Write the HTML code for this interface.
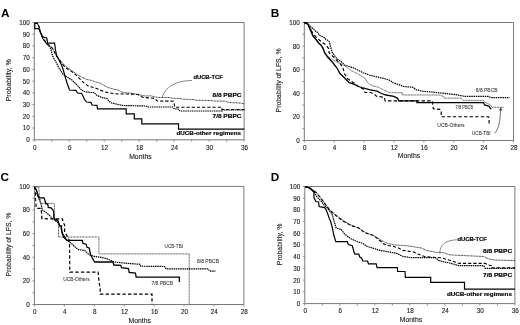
<!DOCTYPE html><html><head><meta charset="utf-8"><style>html,body{margin:0;padding:0;background:#fff;}svg{display:block;filter:grayscale(1) blur(0.3px);}</style></head><body>
<svg width="520" height="325" viewBox="0 0 520 325" style="font-family:&quot;Liberation Sans&quot;, sans-serif">
<rect width="520" height="325" fill="#fff"/>
<text x="0.90" y="17.10" font-size="11.8" text-anchor="start" fill="#000" font-weight="bold" >A</text>
<path d="M34.3,139.8 L34.3,22.5 " stroke="#7a7a7a" stroke-width="1" fill="none"/>
<path d="M34.3,139.8 L244.1,139.8" stroke="#7a7a7a" stroke-width="1" fill="none"/>
<path d="M34.3,22.5 L244.1,22.5 L244.1,139.8" stroke="#7a7a7a" stroke-width="1" fill="none"/>
<path d="M32.3,139.80 L34.3,139.80" stroke="#7a7a7a" stroke-width="0.8"/>
<path d="M32.3,128.07 L34.3,128.07" stroke="#7a7a7a" stroke-width="0.8"/>
<path d="M32.3,116.34 L34.3,116.34" stroke="#7a7a7a" stroke-width="0.8"/>
<path d="M32.3,104.61 L34.3,104.61" stroke="#7a7a7a" stroke-width="0.8"/>
<path d="M32.3,92.88 L34.3,92.88" stroke="#7a7a7a" stroke-width="0.8"/>
<path d="M32.3,81.15 L34.3,81.15" stroke="#7a7a7a" stroke-width="0.8"/>
<path d="M32.3,69.42 L34.3,69.42" stroke="#7a7a7a" stroke-width="0.8"/>
<path d="M32.3,57.69 L34.3,57.69" stroke="#7a7a7a" stroke-width="0.8"/>
<path d="M32.3,45.96 L34.3,45.96" stroke="#7a7a7a" stroke-width="0.8"/>
<path d="M32.3,34.23 L34.3,34.23" stroke="#7a7a7a" stroke-width="0.8"/>
<path d="M32.3,22.50 L34.3,22.50" stroke="#7a7a7a" stroke-width="0.8"/>
<text x="29.70" y="142.20" font-size="6.3" text-anchor="end" fill="#222" stroke="#222" stroke-width="0.12" >0</text>
<text x="29.70" y="130.47" font-size="6.3" text-anchor="end" fill="#222" stroke="#222" stroke-width="0.12" >10</text>
<text x="29.70" y="118.74" font-size="6.3" text-anchor="end" fill="#222" stroke="#222" stroke-width="0.12" >20</text>
<text x="29.70" y="107.01" font-size="6.3" text-anchor="end" fill="#222" stroke="#222" stroke-width="0.12" >30</text>
<text x="29.70" y="95.28" font-size="6.3" text-anchor="end" fill="#222" stroke="#222" stroke-width="0.12" >40</text>
<text x="29.70" y="83.55" font-size="6.3" text-anchor="end" fill="#222" stroke="#222" stroke-width="0.12" >50</text>
<text x="29.70" y="71.82" font-size="6.3" text-anchor="end" fill="#222" stroke="#222" stroke-width="0.12" >60</text>
<text x="29.70" y="60.09" font-size="6.3" text-anchor="end" fill="#222" stroke="#222" stroke-width="0.12" >70</text>
<text x="29.70" y="48.36" font-size="6.3" text-anchor="end" fill="#222" stroke="#222" stroke-width="0.12" >80</text>
<text x="29.70" y="36.63" font-size="6.3" text-anchor="end" fill="#222" stroke="#222" stroke-width="0.12" >90</text>
<text x="29.70" y="24.90" font-size="6.3" text-anchor="end" fill="#222" stroke="#222" stroke-width="0.12" >100</text>
<path d="M34.30,139.8 L34.30,141.8" stroke="#7a7a7a" stroke-width="0.8"/>
<path d="M51.78,139.8 L51.78,141.8" stroke="#7a7a7a" stroke-width="0.8"/>
<path d="M69.27,139.8 L69.27,141.8" stroke="#7a7a7a" stroke-width="0.8"/>
<path d="M86.75,139.8 L86.75,141.8" stroke="#7a7a7a" stroke-width="0.8"/>
<path d="M104.23,139.8 L104.23,141.8" stroke="#7a7a7a" stroke-width="0.8"/>
<path d="M121.72,139.8 L121.72,141.8" stroke="#7a7a7a" stroke-width="0.8"/>
<path d="M139.20,139.8 L139.20,141.8" stroke="#7a7a7a" stroke-width="0.8"/>
<path d="M156.68,139.8 L156.68,141.8" stroke="#7a7a7a" stroke-width="0.8"/>
<path d="M174.17,139.8 L174.17,141.8" stroke="#7a7a7a" stroke-width="0.8"/>
<path d="M191.65,139.8 L191.65,141.8" stroke="#7a7a7a" stroke-width="0.8"/>
<path d="M209.13,139.8 L209.13,141.8" stroke="#7a7a7a" stroke-width="0.8"/>
<path d="M226.62,139.8 L226.62,141.8" stroke="#7a7a7a" stroke-width="0.8"/>
<path d="M244.10,139.8 L244.10,141.8" stroke="#7a7a7a" stroke-width="0.8"/>
<text x="34.70" y="149.50" font-size="6.3" text-anchor="middle" fill="#222" stroke="#222" stroke-width="0.12" >0</text>
<text x="69.67" y="149.50" font-size="6.3" text-anchor="middle" fill="#222" stroke="#222" stroke-width="0.12" >6</text>
<text x="104.63" y="149.50" font-size="6.3" text-anchor="middle" fill="#222" stroke="#222" stroke-width="0.12" >12</text>
<text x="139.60" y="149.50" font-size="6.3" text-anchor="middle" fill="#222" stroke="#222" stroke-width="0.12" >18</text>
<text x="174.57" y="149.50" font-size="6.3" text-anchor="middle" fill="#222" stroke="#222" stroke-width="0.12" >24</text>
<text x="209.53" y="149.50" font-size="6.3" text-anchor="middle" fill="#222" stroke="#222" stroke-width="0.12" >30</text>
<text x="244.50" y="149.50" font-size="6.3" text-anchor="middle" fill="#222" stroke="#222" stroke-width="0.12" >36</text>
<text x="11.50" y="80.30" font-size="7" text-anchor="middle" fill="#222" stroke="#222" stroke-width="0.12" textLength="42" lengthAdjust="spacingAndGlyphs" transform="rotate(-90 11.50 80.30)" >Probability, %</text>
<text x="140.40" y="159.00" font-size="7.2" text-anchor="middle" fill="#222" stroke="#222" stroke-width="0.12" textLength="22.5" lengthAdjust="spacingAndGlyphs" >Months</text>
<text x="270.80" y="17.10" font-size="11.8" text-anchor="start" fill="#000" font-weight="bold" >B</text>
<path d="M304.3,140.5 L304.3,22.5 " stroke="#7a7a7a" stroke-width="1" fill="none"/>
<path d="M304.3,140.5 L513.5,140.5" stroke="#7a7a7a" stroke-width="1" fill="none"/>
<path d="M304.3,22.5 L513.5,22.5 L513.5,140.5" stroke="#7a7a7a" stroke-width="1" fill="none"/>
<path d="M302.3,140.50 L304.3,140.50" stroke="#7a7a7a" stroke-width="0.8"/>
<path d="M302.3,128.70 L304.3,128.70" stroke="#7a7a7a" stroke-width="0.8"/>
<path d="M302.3,116.90 L304.3,116.90" stroke="#7a7a7a" stroke-width="0.8"/>
<path d="M302.3,105.10 L304.3,105.10" stroke="#7a7a7a" stroke-width="0.8"/>
<path d="M302.3,93.30 L304.3,93.30" stroke="#7a7a7a" stroke-width="0.8"/>
<path d="M302.3,81.50 L304.3,81.50" stroke="#7a7a7a" stroke-width="0.8"/>
<path d="M302.3,69.70 L304.3,69.70" stroke="#7a7a7a" stroke-width="0.8"/>
<path d="M302.3,57.90 L304.3,57.90" stroke="#7a7a7a" stroke-width="0.8"/>
<path d="M302.3,46.10 L304.3,46.10" stroke="#7a7a7a" stroke-width="0.8"/>
<path d="M302.3,34.30 L304.3,34.30" stroke="#7a7a7a" stroke-width="0.8"/>
<path d="M302.3,22.50 L304.3,22.50" stroke="#7a7a7a" stroke-width="0.8"/>
<text x="299.70" y="142.90" font-size="6.3" text-anchor="end" fill="#222" stroke="#222" stroke-width="0.12" >0</text>
<text x="299.70" y="119.30" font-size="6.3" text-anchor="end" fill="#222" stroke="#222" stroke-width="0.12" >20</text>
<text x="299.70" y="95.70" font-size="6.3" text-anchor="end" fill="#222" stroke="#222" stroke-width="0.12" >40</text>
<text x="299.70" y="72.10" font-size="6.3" text-anchor="end" fill="#222" stroke="#222" stroke-width="0.12" >60</text>
<text x="299.70" y="48.50" font-size="6.3" text-anchor="end" fill="#222" stroke="#222" stroke-width="0.12" >80</text>
<text x="299.70" y="24.90" font-size="6.3" text-anchor="end" fill="#222" stroke="#222" stroke-width="0.12" >100</text>
<path d="M304.30,140.5 L304.30,142.5" stroke="#7a7a7a" stroke-width="0.8"/>
<path d="M334.19,140.5 L334.19,142.5" stroke="#7a7a7a" stroke-width="0.8"/>
<path d="M364.07,140.5 L364.07,142.5" stroke="#7a7a7a" stroke-width="0.8"/>
<path d="M393.96,140.5 L393.96,142.5" stroke="#7a7a7a" stroke-width="0.8"/>
<path d="M423.84,140.5 L423.84,142.5" stroke="#7a7a7a" stroke-width="0.8"/>
<path d="M453.73,140.5 L453.73,142.5" stroke="#7a7a7a" stroke-width="0.8"/>
<path d="M483.61,140.5 L483.61,142.5" stroke="#7a7a7a" stroke-width="0.8"/>
<path d="M513.50,140.5 L513.50,142.5" stroke="#7a7a7a" stroke-width="0.8"/>
<text x="304.70" y="150.20" font-size="6.3" text-anchor="middle" fill="#222" stroke="#222" stroke-width="0.12" >0</text>
<text x="334.59" y="150.20" font-size="6.3" text-anchor="middle" fill="#222" stroke="#222" stroke-width="0.12" >4</text>
<text x="364.47" y="150.20" font-size="6.3" text-anchor="middle" fill="#222" stroke="#222" stroke-width="0.12" >8</text>
<text x="394.36" y="150.20" font-size="6.3" text-anchor="middle" fill="#222" stroke="#222" stroke-width="0.12" >12</text>
<text x="424.24" y="150.20" font-size="6.3" text-anchor="middle" fill="#222" stroke="#222" stroke-width="0.12" >16</text>
<text x="454.13" y="150.20" font-size="6.3" text-anchor="middle" fill="#222" stroke="#222" stroke-width="0.12" >20</text>
<text x="484.01" y="150.20" font-size="6.3" text-anchor="middle" fill="#222" stroke="#222" stroke-width="0.12" >24</text>
<text x="513.90" y="150.20" font-size="6.3" text-anchor="middle" fill="#222" stroke="#222" stroke-width="0.12" >28</text>
<text x="281.00" y="80.40" font-size="7" text-anchor="middle" fill="#222" stroke="#222" stroke-width="0.12" textLength="64" lengthAdjust="spacingAndGlyphs" transform="rotate(-90 281.00 80.40)" >Probability of LFS, %</text>
<text x="409.00" y="158.40" font-size="7.2" text-anchor="middle" fill="#222" stroke="#222" stroke-width="0.12" textLength="22.5" lengthAdjust="spacingAndGlyphs" >Months</text>
<text x="0.60" y="180.60" font-size="11.8" text-anchor="start" fill="#000" font-weight="bold" >C</text>
<path d="M34.4,304.5 L34.4,186.4 " stroke="#7a7a7a" stroke-width="1" fill="none"/>
<path d="M34.4,304.5 L243.9,304.5" stroke="#7a7a7a" stroke-width="1" fill="none"/>
<path d="M34.4,186.4 L243.9,186.4 L243.9,304.5" stroke="#7a7a7a" stroke-width="1" fill="none"/>
<path d="M32.4,304.50 L34.4,304.50" stroke="#7a7a7a" stroke-width="0.8"/>
<path d="M32.4,292.69 L34.4,292.69" stroke="#7a7a7a" stroke-width="0.8"/>
<path d="M32.4,280.88 L34.4,280.88" stroke="#7a7a7a" stroke-width="0.8"/>
<path d="M32.4,269.07 L34.4,269.07" stroke="#7a7a7a" stroke-width="0.8"/>
<path d="M32.4,257.26 L34.4,257.26" stroke="#7a7a7a" stroke-width="0.8"/>
<path d="M32.4,245.45 L34.4,245.45" stroke="#7a7a7a" stroke-width="0.8"/>
<path d="M32.4,233.64 L34.4,233.64" stroke="#7a7a7a" stroke-width="0.8"/>
<path d="M32.4,221.83 L34.4,221.83" stroke="#7a7a7a" stroke-width="0.8"/>
<path d="M32.4,210.02 L34.4,210.02" stroke="#7a7a7a" stroke-width="0.8"/>
<path d="M32.4,198.21 L34.4,198.21" stroke="#7a7a7a" stroke-width="0.8"/>
<path d="M32.4,186.40 L34.4,186.40" stroke="#7a7a7a" stroke-width="0.8"/>
<text x="29.80" y="306.90" font-size="6.3" text-anchor="end" fill="#222" stroke="#222" stroke-width="0.12" >0</text>
<text x="29.80" y="283.28" font-size="6.3" text-anchor="end" fill="#222" stroke="#222" stroke-width="0.12" >20</text>
<text x="29.80" y="259.66" font-size="6.3" text-anchor="end" fill="#222" stroke="#222" stroke-width="0.12" >40</text>
<text x="29.80" y="236.04" font-size="6.3" text-anchor="end" fill="#222" stroke="#222" stroke-width="0.12" >60</text>
<text x="29.80" y="212.42" font-size="6.3" text-anchor="end" fill="#222" stroke="#222" stroke-width="0.12" >80</text>
<text x="29.80" y="188.80" font-size="6.3" text-anchor="end" fill="#222" stroke="#222" stroke-width="0.12" >100</text>
<path d="M34.40,304.5 L34.40,306.5" stroke="#7a7a7a" stroke-width="0.8"/>
<path d="M64.33,304.5 L64.33,306.5" stroke="#7a7a7a" stroke-width="0.8"/>
<path d="M94.26,304.5 L94.26,306.5" stroke="#7a7a7a" stroke-width="0.8"/>
<path d="M124.19,304.5 L124.19,306.5" stroke="#7a7a7a" stroke-width="0.8"/>
<path d="M154.11,304.5 L154.11,306.5" stroke="#7a7a7a" stroke-width="0.8"/>
<path d="M184.04,304.5 L184.04,306.5" stroke="#7a7a7a" stroke-width="0.8"/>
<path d="M213.97,304.5 L213.97,306.5" stroke="#7a7a7a" stroke-width="0.8"/>
<path d="M243.90,304.5 L243.90,306.5" stroke="#7a7a7a" stroke-width="0.8"/>
<text x="34.80" y="314.20" font-size="6.3" text-anchor="middle" fill="#222" stroke="#222" stroke-width="0.12" >0</text>
<text x="64.73" y="314.20" font-size="6.3" text-anchor="middle" fill="#222" stroke="#222" stroke-width="0.12" >4</text>
<text x="94.66" y="314.20" font-size="6.3" text-anchor="middle" fill="#222" stroke="#222" stroke-width="0.12" >8</text>
<text x="124.59" y="314.20" font-size="6.3" text-anchor="middle" fill="#222" stroke="#222" stroke-width="0.12" >12</text>
<text x="154.51" y="314.20" font-size="6.3" text-anchor="middle" fill="#222" stroke="#222" stroke-width="0.12" >16</text>
<text x="184.44" y="314.20" font-size="6.3" text-anchor="middle" fill="#222" stroke="#222" stroke-width="0.12" >20</text>
<text x="214.37" y="314.20" font-size="6.3" text-anchor="middle" fill="#222" stroke="#222" stroke-width="0.12" >24</text>
<text x="244.30" y="314.20" font-size="6.3" text-anchor="middle" fill="#222" stroke="#222" stroke-width="0.12" >28</text>
<text x="10.80" y="244.60" font-size="7" text-anchor="middle" fill="#222" stroke="#222" stroke-width="0.12" textLength="64" lengthAdjust="spacingAndGlyphs" transform="rotate(-90 10.80 244.60)" >Probability of LFS, %</text>
<text x="139.70" y="322.50" font-size="7.2" text-anchor="middle" fill="#222" stroke="#222" stroke-width="0.12" textLength="22.5" lengthAdjust="spacingAndGlyphs" >Months</text>
<text x="270.80" y="180.60" font-size="11.8" text-anchor="start" fill="#000" font-weight="bold" >D</text>
<path d="M304.8,303.6 L304.8,186.5 " stroke="#7a7a7a" stroke-width="1" fill="none"/>
<path d="M304.8,303.6 L514.9,303.6" stroke="#7a7a7a" stroke-width="1" fill="none"/>
<path d="M304.8,186.5 L514.9,186.5 L514.9,303.6" stroke="#7a7a7a" stroke-width="1" fill="none"/>
<path d="M302.8,303.60 L304.8,303.60" stroke="#7a7a7a" stroke-width="0.8"/>
<path d="M302.8,291.89 L304.8,291.89" stroke="#7a7a7a" stroke-width="0.8"/>
<path d="M302.8,280.18 L304.8,280.18" stroke="#7a7a7a" stroke-width="0.8"/>
<path d="M302.8,268.47 L304.8,268.47" stroke="#7a7a7a" stroke-width="0.8"/>
<path d="M302.8,256.76 L304.8,256.76" stroke="#7a7a7a" stroke-width="0.8"/>
<path d="M302.8,245.05 L304.8,245.05" stroke="#7a7a7a" stroke-width="0.8"/>
<path d="M302.8,233.34 L304.8,233.34" stroke="#7a7a7a" stroke-width="0.8"/>
<path d="M302.8,221.63 L304.8,221.63" stroke="#7a7a7a" stroke-width="0.8"/>
<path d="M302.8,209.92 L304.8,209.92" stroke="#7a7a7a" stroke-width="0.8"/>
<path d="M302.8,198.21 L304.8,198.21" stroke="#7a7a7a" stroke-width="0.8"/>
<path d="M302.8,186.50 L304.8,186.50" stroke="#7a7a7a" stroke-width="0.8"/>
<text x="300.20" y="306.00" font-size="6.3" text-anchor="end" fill="#222" stroke="#222" stroke-width="0.12" >0</text>
<text x="300.20" y="294.29" font-size="6.3" text-anchor="end" fill="#222" stroke="#222" stroke-width="0.12" >10</text>
<text x="300.20" y="282.58" font-size="6.3" text-anchor="end" fill="#222" stroke="#222" stroke-width="0.12" >20</text>
<text x="300.20" y="270.87" font-size="6.3" text-anchor="end" fill="#222" stroke="#222" stroke-width="0.12" >30</text>
<text x="300.20" y="259.16" font-size="6.3" text-anchor="end" fill="#222" stroke="#222" stroke-width="0.12" >40</text>
<text x="300.20" y="247.45" font-size="6.3" text-anchor="end" fill="#222" stroke="#222" stroke-width="0.12" >50</text>
<text x="300.20" y="235.74" font-size="6.3" text-anchor="end" fill="#222" stroke="#222" stroke-width="0.12" >60</text>
<text x="300.20" y="224.03" font-size="6.3" text-anchor="end" fill="#222" stroke="#222" stroke-width="0.12" >70</text>
<text x="300.20" y="212.32" font-size="6.3" text-anchor="end" fill="#222" stroke="#222" stroke-width="0.12" >80</text>
<text x="300.20" y="200.61" font-size="6.3" text-anchor="end" fill="#222" stroke="#222" stroke-width="0.12" >90</text>
<text x="300.20" y="188.90" font-size="6.3" text-anchor="end" fill="#222" stroke="#222" stroke-width="0.12" >100</text>
<path d="M304.80,303.6 L304.80,305.6" stroke="#7a7a7a" stroke-width="0.8"/>
<path d="M322.31,303.6 L322.31,305.6" stroke="#7a7a7a" stroke-width="0.8"/>
<path d="M339.82,303.6 L339.82,305.6" stroke="#7a7a7a" stroke-width="0.8"/>
<path d="M357.32,303.6 L357.32,305.6" stroke="#7a7a7a" stroke-width="0.8"/>
<path d="M374.83,303.6 L374.83,305.6" stroke="#7a7a7a" stroke-width="0.8"/>
<path d="M392.34,303.6 L392.34,305.6" stroke="#7a7a7a" stroke-width="0.8"/>
<path d="M409.85,303.6 L409.85,305.6" stroke="#7a7a7a" stroke-width="0.8"/>
<path d="M427.36,303.6 L427.36,305.6" stroke="#7a7a7a" stroke-width="0.8"/>
<path d="M444.87,303.6 L444.87,305.6" stroke="#7a7a7a" stroke-width="0.8"/>
<path d="M462.38,303.6 L462.38,305.6" stroke="#7a7a7a" stroke-width="0.8"/>
<path d="M479.88,303.6 L479.88,305.6" stroke="#7a7a7a" stroke-width="0.8"/>
<path d="M497.39,303.6 L497.39,305.6" stroke="#7a7a7a" stroke-width="0.8"/>
<path d="M514.90,303.6 L514.90,305.6" stroke="#7a7a7a" stroke-width="0.8"/>
<text x="305.20" y="313.30" font-size="6.3" text-anchor="middle" fill="#222" stroke="#222" stroke-width="0.12" >0</text>
<text x="340.22" y="313.30" font-size="6.3" text-anchor="middle" fill="#222" stroke="#222" stroke-width="0.12" >6</text>
<text x="375.23" y="313.30" font-size="6.3" text-anchor="middle" fill="#222" stroke="#222" stroke-width="0.12" >12</text>
<text x="410.25" y="313.30" font-size="6.3" text-anchor="middle" fill="#222" stroke="#222" stroke-width="0.12" >18</text>
<text x="445.27" y="313.30" font-size="6.3" text-anchor="middle" fill="#222" stroke="#222" stroke-width="0.12" >24</text>
<text x="480.28" y="313.30" font-size="6.3" text-anchor="middle" fill="#222" stroke="#222" stroke-width="0.12" >30</text>
<text x="515.30" y="313.30" font-size="6.3" text-anchor="middle" fill="#222" stroke="#222" stroke-width="0.12" >36</text>
<text x="282.00" y="244.40" font-size="7" text-anchor="middle" fill="#222" stroke="#222" stroke-width="0.12" textLength="41.5" lengthAdjust="spacingAndGlyphs" transform="rotate(-90 282.00 244.40)" >Probability, %</text>
<text x="411.00" y="321.70" font-size="7.2" text-anchor="middle" fill="#222" stroke="#222" stroke-width="0.12" textLength="22.5" lengthAdjust="spacingAndGlyphs" >Months</text>
<path d="M34.60,23.20 L37.40,23.40 L39.40,27.50 L39.80,30.50 L41.00,34.00 L42.50,37.50 L43.40,39.70 L44.80,40.60 L45.70,42.50 L46.60,43.80 L48.00,44.70 L49.80,45.50 L52.20,48.00 L53.50,49.80 L54.00,51.00 L56.00,55.50 L59.00,59.00 L62.00,62.50 L65.00,65.50 L68.00,68.00 L71.40,70.40 L79.00,75.80 L86.80,79.60 L90.00,80.00 L96.00,82.00 L100.00,83.00 L105.00,86.00 L108.00,87.50 L113.00,89.00 L118.00,90.00 L123.00,92.50 L133.00,93.50 L140.00,95.00 L145.00,96.00 L151.00,95.80 L155.00,97.00 L160.00,97.50 L170.00,97.50 L172.00,98.20 L181.00,98.50 L182.00,99.20 L194.00,99.50 L195.00,100.20 L211.00,100.50 L214.00,101.00 L226.00,101.20 L228.00,102.50 L240.00,103.00 L244.30,103.80" stroke="#222" stroke-width="0.9" fill="none" stroke-dasharray="1 0.5" stroke-linejoin="miter" />
<path d="M34.60,23.20 L37.40,23.40 L39.40,27.50 L39.80,30.50 L41.00,34.00 L42.50,37.50 L43.40,39.70 L44.80,40.60 L45.70,42.50 L46.60,43.80 L48.00,44.70 L49.80,45.50 L52.20,48.00 L53.50,49.80 L54.00,51.00 L56.00,55.50 L59.00,59.00 L62.00,63.50 L65.00,67.00 L68.00,69.50 L71.40,71.20 L77.00,76.00 L83.70,82.70 L89.00,86.50 L94.00,87.50 L100.00,90.00 L105.00,92.00 L110.00,93.00 L118.00,94.00 L128.00,94.00 L138.00,94.50 L143.00,97.50 L151.00,98.00 L155.00,98.50 L157.00,101.00 L173.50,101.20 L175.00,107.30 L222.00,107.30 L222.00,109.50 L244.30,109.50" stroke="#000" stroke-width="1.1" fill="none" stroke-dasharray="3.2 2" stroke-linejoin="miter" />
<path d="M34.60,23.20 L37.40,23.40 L39.40,27.50 L39.80,30.50 L41.00,34.00 L42.50,37.50 L43.40,39.70 L44.80,40.60 L45.70,42.50 L46.60,43.80 L48.00,44.70 L50.30,48.00 L51.20,49.80 L52.00,54.00 L53.50,58.00 L55.00,60.50 L57.00,64.00 L59.00,68.00 L63.00,74.20 L67.00,77.00 L72.00,80.00 L77.00,85.00 L81.50,90.00 L84.00,91.50 L90.00,92.50 L94.00,92.50 L97.00,95.50 L102.00,97.50 L107.00,98.50 L109.00,101.50 L111.00,102.80 L116.00,104.00 L123.00,105.50 L146.00,106.00 L147.00,107.00 L173.00,107.00 L174.50,109.00 L178.00,109.00 L180.00,111.00 L222.00,111.00 L222.00,110.00 L244.30,110.00" stroke="#000" stroke-width="1.2" fill="none" stroke-dasharray="1.5 0.7" stroke-linejoin="miter" />
<path d="M34.80,23.20 L34.80,28.70 L38.50,28.70 L39.80,30.50 L41.20,33.80 L42.30,36.50 L44.80,37.60 L46.60,37.80 L47.10,39.70 L47.50,43.20 L54.60,43.20 L55.00,46.00 L55.50,50.00 L56.50,55.00 L58.00,58.00 L60.00,62.00 L61.50,65.00 L63.00,69.00 L65.50,78.00 L67.00,83.00 L69.50,90.00 L76.00,90.30 L77.50,93.00 L81.50,93.30 L83.00,96.00 L84.50,99.50 L86.50,102.00 L91.00,102.30 L92.00,105.00 L97.00,105.30 L97.50,108.80 L126.20,108.80 L126.20,113.80 L134.30,113.80 L134.30,118.80 L141.80,118.80 L141.80,123.80 L178.50,123.80 L178.50,129.20 L244.30,129.20" stroke="#000" stroke-width="1.2" fill="none" stroke-linejoin="miter" />
<path d="M191.9,80.5 C176,80.5 165,87 162,97.7" stroke="#555" stroke-width="0.7" fill="none"/>
<text x="193.50" y="78.70" font-size="6.1" text-anchor="start" fill="#000" font-weight="bold" textLength="29.2" lengthAdjust="spacingAndGlyphs" stroke="#000" stroke-width="0.18">dUCB-TCF</text>
<text x="212.50" y="97.00" font-size="6.1" text-anchor="start" fill="#000" font-weight="bold" textLength="29" lengthAdjust="spacingAndGlyphs" stroke="#000" stroke-width="0.18">8/8 PBPC</text>
<text x="212.50" y="118.00" font-size="6.1" text-anchor="start" fill="#000" font-weight="bold" textLength="29" lengthAdjust="spacingAndGlyphs" stroke="#000" stroke-width="0.18">7/8 PBPC</text>
<text x="176.50" y="135.40" font-size="6.1" text-anchor="start" fill="#000" font-weight="bold" textLength="64.5" lengthAdjust="spacingAndGlyphs" stroke="#000" stroke-width="0.18">dUCB-other regimens</text>
<path d="M304.00,22.50 L307.00,23.00 L310.00,27.00 L312.00,31.00 L312.50,36.50 L314.50,38.00 L316.00,39.00 L319.00,43.00 L323.00,49.60 L326.00,54.20 L329.20,57.30 L333.80,60.40 L340.00,63.50 L346.00,66.50 L350.80,70.40 L355.40,72.70 L360.00,75.00 L364.60,78.00 L367.70,82.70 L372.30,85.80 L378.50,87.30 L383.00,89.60 L390.00,92.70 L402.30,92.70 L402.30,95.00 L439.20,95.00 L443.80,96.50 L443.80,98.20 L461.10,98.20 L462.90,100.40 L483.60,100.40 L485.40,102.50 L490.00,104.50 L492.20,107.30 L504.00,107.30" stroke="#444" stroke-width="0.9" fill="none" stroke-dasharray="1 0.5" stroke-linejoin="miter" />
<path d="M304.50,22.80 L307.70,23.40 L309.10,25.20 L310.50,26.60 L312.30,28.00 L313.70,28.90 L315.00,30.80 L316.50,31.70 L317.80,32.60 L318.80,34.00 L319.50,35.40 L322.00,36.50 L325.00,38.00 L326.00,39.50 L328.00,40.50 L329.50,42.00 L330.00,45.00 L332.30,52.70 L337.00,58.80 L341.50,62.00 L344.60,65.00 L349.20,66.50 L353.80,68.00 L358.50,70.40 L363.00,72.70 L369.20,75.00 L375.40,76.50 L381.50,78.00 L385.40,78.80 L390.00,80.40 L393.00,82.70 L397.70,84.20 L403.80,86.50 L413.00,87.30 L416.00,89.60 L422.30,91.20 L431.50,92.00 L440.40,93.00 L456.00,94.70 L464.60,96.40 L488.80,96.40 L490.50,97.60 L509.60,97.60" stroke="#000" stroke-width="1.2" fill="none" stroke-dasharray="1.5 0.75" stroke-linejoin="miter" />
<path d="M304.00,22.50 L307.00,24.00 L310.00,28.00 L313.00,34.00 L317.00,38.00 L320.00,40.50 L323.00,43.00 L326.00,45.00 L329.00,49.00 L329.00,52.70 L335.40,58.80 L340.00,63.50 L343.00,68.00 L344.60,74.00 L347.70,78.80 L352.30,82.00 L357.30,85.80 L364.00,89.60 L365.00,92.50 L370.80,92.50 L374.60,94.40 L376.50,96.30 L384.20,97.30 L385.20,100.80 L432.30,100.80 L433.30,108.80 L440.00,109.40 L441.20,110.80 L441.20,116.70 L488.60,116.80 L489.10,117.80 L489.10,124.80" stroke="#000" stroke-width="1.15" fill="none" stroke-dasharray="3.4 2.2" stroke-linejoin="miter" />
<path d="M304.50,22.80 L306.80,22.90 L308.20,24.80 L309.10,27.10 L310.00,29.40 L310.90,31.20 L311.80,33.50 L312.80,35.40 L314.00,37.00 L316.00,39.50 L317.50,41.50 L319.00,43.50 L321.00,45.00 L323.00,48.00 L324.60,52.70 L327.70,57.30 L332.30,62.00 L337.00,68.00 L340.00,73.50 L344.60,78.00 L349.20,82.70 L353.80,84.20 L358.50,86.50 L363.00,88.00 L369.20,89.60 L377.00,91.20 L381.50,93.50 L386.00,95.00 L393.80,96.30 L397.70,98.30 L398.70,100.80 L417.00,100.80 L417.00,102.60 L483.60,102.60 L484.50,105.00 L488.80,106.00 L490.50,108.50 L491.40,108.50" stroke="#000" stroke-width="1.3" fill="none" stroke-linejoin="miter" />
<path d="M494.6,133.2 C498.6,129 500.2,122 500.5,110.5" stroke="#333" stroke-width="0.7" fill="none"/>
<path d="M499,110.5 L500.8,107.3 L502.4,110.5 Z" fill="#333"/>
<text x="475.80" y="91.80" font-size="5.5" text-anchor="start" fill="#444" textLength="21.7" lengthAdjust="spacingAndGlyphs" stroke="#444" stroke-width="0.1">8/8 PBCB</text>
<text x="455.60" y="109.20" font-size="5.5" text-anchor="start" fill="#444" textLength="17.5" lengthAdjust="spacingAndGlyphs" stroke="#444" stroke-width="0.1">7/8 PBCB</text>
<text x="437.30" y="126.70" font-size="5.5" text-anchor="start" fill="#444" textLength="27.3" lengthAdjust="spacingAndGlyphs" stroke="#444" stroke-width="0.1">UCB-Others</text>
<text x="472.00" y="135.00" font-size="5.5" text-anchor="start" fill="#444" textLength="18.6" lengthAdjust="spacingAndGlyphs" stroke="#444" stroke-width="0.1">UCB-TBI</text>
<path d="M34.30,187.00 L38.90,187.00 L38.90,189.50 L39.40,196.00 L40.30,200.00 L40.80,203.40 L54.20,203.40 L54.60,208.00 L54.60,218.40 L57.00,220.00 L58.50,222.00 L58.50,237.00 L98.90,237.00 L98.90,253.90 L189.20,253.90 L189.20,304.30" stroke="#444" stroke-width="0.9" fill="none" stroke-dasharray="1 0.5" stroke-linejoin="miter" />
<path d="M34.30,187.00 L35.70,188.60 L37.50,195.00 L39.90,201.40 L41.00,203.80 L41.70,206.90 L42.00,209.70 L43.40,210.70 L45.10,211.80 L46.90,213.20 L48.60,214.50 L50.30,216.30 L51.70,218.00 L53.00,219.00 L54.60,220.00 L57.00,222.20 L58.50,223.00 L61.00,228.00 L63.00,234.00 L67.00,240.40 L71.50,243.50 L75.40,247.30 L78.50,249.60 L84.60,250.40 L87.70,253.50 L90.00,255.00 L94.60,256.50 L100.80,257.30 L107.00,258.80 L114.60,262.00 L120.80,262.70 L123.00,263.00 L140.00,264.30 L140.80,266.20 L164.60,266.50 L166.20,268.80 L207.70,268.80 L208.50,269.60 L210.00,271.20 L215.40,271.20" stroke="#000" stroke-width="1.2" fill="none" stroke-dasharray="1.5 0.7" stroke-linejoin="miter" />
<path d="M34.30,187.00 L35.50,189.00 L35.50,198.00 L36.20,207.60 L37.00,208.40 L41.00,208.40 L41.80,214.50 L41.80,218.60 L48.00,218.80 L62.50,218.80 L63.00,222.00 L64.60,225.00 L64.60,232.00 L68.50,238.00 L69.50,242.00 L69.80,272.10 L98.10,272.10 L99.10,282.00 L100.20,289.50 L100.20,294.20 L152.00,294.20 L152.00,304.30" stroke="#000" stroke-width="1.2" fill="none" stroke-dasharray="3.4 2.2" stroke-linejoin="miter" />
<path d="M34.30,187.00 L36.60,190.50 L37.50,193.20 L38.50,197.00 L39.40,197.80 L44.00,197.80 L45.00,200.60 L45.50,202.80 L45.80,203.80 L47.50,203.80 L48.00,205.50 L48.30,207.50 L51.00,207.80 L51.50,208.50 L52.60,209.30 L53.40,211.10 L53.80,213.90 L53.80,217.30 L54.50,218.70 L55.40,220.00 L57.70,220.00 L59.20,224.50 L60.00,226.00 L61.50,226.00 L61.50,229.00 L62.00,233.00 L63.80,237.30 L67.00,240.40 L82.30,240.40 L83.00,243.50 L86.20,244.20 L87.00,247.30 L89.20,248.00 L90.00,252.00 L90.80,255.00 L92.30,258.00 L94.60,262.00 L113.00,262.00 L113.80,265.00 L120.80,265.30 L121.50,267.70 L128.50,268.50 L129.20,272.30 L135.40,273.00 L136.20,277.20 L179.40,277.20 L179.40,282.00" stroke="#000" stroke-width="1.3" fill="none" stroke-linejoin="miter" />
<text x="164.60" y="247.80" font-size="5.5" text-anchor="start" fill="#444" textLength="18.4" lengthAdjust="spacingAndGlyphs" stroke="#444" stroke-width="0.1">UCB-TBI</text>
<text x="197.00" y="262.80" font-size="5.5" text-anchor="start" fill="#444" textLength="22" lengthAdjust="spacingAndGlyphs" stroke="#444" stroke-width="0.1">8/8 PBCB</text>
<text x="151.50" y="285.00" font-size="5.5" text-anchor="start" fill="#444" textLength="21.5" lengthAdjust="spacingAndGlyphs" stroke="#444" stroke-width="0.1">7/8 PBCB</text>
<text x="63.20" y="281.00" font-size="5.5" text-anchor="start" fill="#444" textLength="26.4" lengthAdjust="spacingAndGlyphs" stroke="#444" stroke-width="0.1">UCB-Others</text>
<path d="M305.00,186.60 L307.50,187.00 L310.50,188.50 L315.40,191.50 L320.00,196.80 L324.60,203.00 L329.20,209.20 L333.80,213.50 L343.00,220.40 L350.80,225.00 L358.50,228.00 L366.00,232.70 L373.80,235.80 L381.50,240.40 L387.70,243.50 L395.40,245.00 L407.70,245.80 L421.50,248.00 L426.20,250.40 L436.00,252.30 L443.70,252.60 L449.80,254.90 L466.80,255.70 L483.70,256.50 L488.30,258.80 L494.50,260.00 L515.00,260.60" stroke="#222" stroke-width="0.9" fill="none" stroke-dasharray="1 0.5" stroke-linejoin="miter" />
<path d="M305.00,186.60 L307.50,187.20 L310.80,189.00 L315.80,192.20 L320.30,197.50 L324.80,203.60 L329.40,209.60 L334.50,214.50 L343.00,221.00 L350.80,225.50 L358.50,227.80 L364.60,232.70 L373.80,235.50 L381.50,242.00 L383.00,243.50 L387.70,245.50 L393.80,246.50 L398.50,248.00 L403.00,250.40 L413.80,252.00 L418.50,254.20 L424.60,256.50 L433.80,257.30 L441.50,257.80 L449.80,260.30 L459.00,263.40 L485.20,263.40 L488.30,264.90 L491.40,265.70 L491.40,267.80 L515.00,267.80" stroke="#000" stroke-width="1.1" fill="none" stroke-dasharray="3.2 2" stroke-linejoin="miter" />
<path d="M305.00,186.60 L308.00,187.50 L310.80,188.40 L314.60,193.00 L317.00,196.80 L321.50,201.50 L324.60,206.00 L327.70,208.40 L329.20,210.70 L330.80,212.50 L332.30,215.00 L333.80,220.40 L336.20,228.00 L341.50,229.60 L344.60,234.20 L350.80,238.80 L357.00,241.50 L363.00,243.50 L366.00,246.00 L370.80,247.50 L380.00,250.40 L389.20,252.00 L397.00,253.50 L403.00,256.50 L410.80,257.60 L435.40,257.60 L438.50,260.40 L444.60,262.00 L449.80,263.00 L459.00,265.70 L483.70,265.70 L485.20,268.30 L515.00,268.30" stroke="#000" stroke-width="1.2" fill="none" stroke-dasharray="1.5 0.7" stroke-linejoin="miter" />
<path d="M305.00,186.50 L307.50,187.20 L310.30,188.60 L312.20,190.50 L314.00,191.80 L314.00,197.90 L315.90,201.50 L318.60,202.00 L319.10,206.60 L321.90,207.10 L324.60,207.60 L326.20,210.00 L327.70,213.80 L329.20,218.40 L330.80,222.00 L332.30,227.60 L333.80,235.00 L335.80,241.70 L347.30,241.70 L348.30,244.60 L352.10,245.60 L353.10,248.50 L354.00,252.30 L355.00,254.20 L358.80,254.20 L359.80,257.10 L361.70,258.10 L362.70,261.00 L367.50,261.00 L368.50,263.80 L376.20,263.80 L377.10,267.70 L397.30,267.70 L397.70,271.50 L405.00,271.50 L405.40,277.30 L430.70,277.30 L430.70,282.30 L464.50,282.30 L464.50,289.20 L515.00,289.20" stroke="#000" stroke-width="1.2" fill="none" stroke-linejoin="miter" />
<path d="M457.5,239.8 C446,239.8 439.5,245 439.8,253.6" stroke="#555" stroke-width="0.7" fill="none"/>
<text x="457.50" y="241.30" font-size="6.1" text-anchor="start" fill="#000" font-weight="bold" textLength="29.3" lengthAdjust="spacingAndGlyphs" stroke="#000" stroke-width="0.18">dUCB-TCF</text>
<text x="483.00" y="252.60" font-size="6.1" text-anchor="start" fill="#000" font-weight="bold" textLength="29.2" lengthAdjust="spacingAndGlyphs" stroke="#000" stroke-width="0.18">8/8 PBPC</text>
<text x="483.00" y="276.60" font-size="6.1" text-anchor="start" fill="#000" font-weight="bold" textLength="29.2" lengthAdjust="spacingAndGlyphs" stroke="#000" stroke-width="0.18">7/8 PBPC</text>
<text x="446.90" y="296.40" font-size="6.1" text-anchor="start" fill="#000" font-weight="bold" textLength="65" lengthAdjust="spacingAndGlyphs" stroke="#000" stroke-width="0.18">dUCB-other regimens</text>
</svg></body></html>
